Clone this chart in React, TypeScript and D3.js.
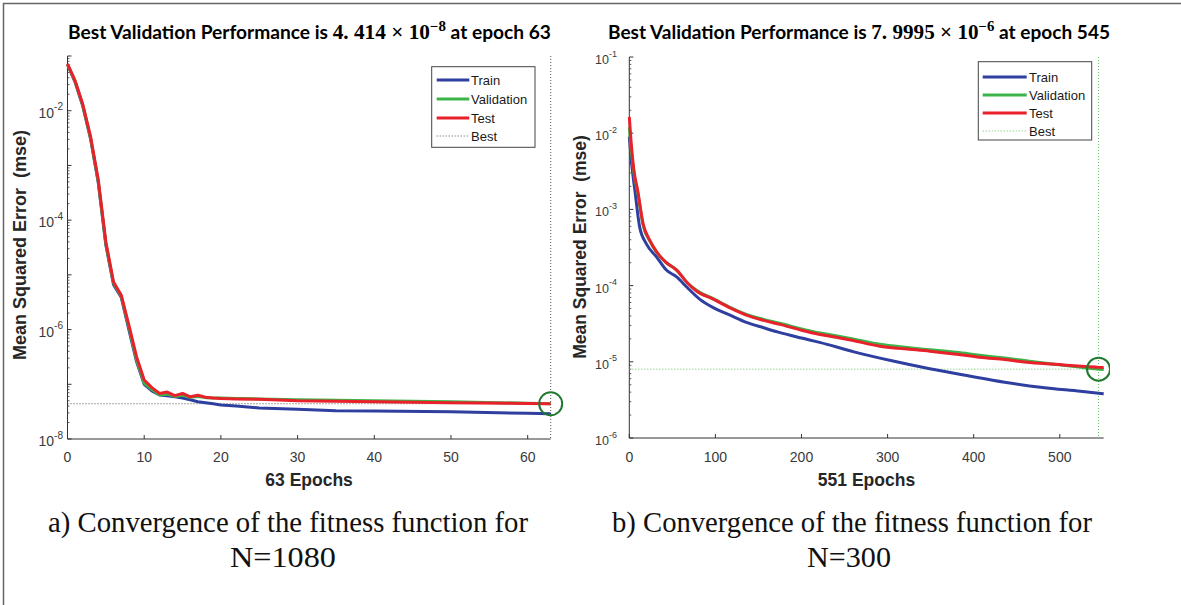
import React from 'react';
import * as d3 from 'd3';

// ---------- Data: chart a) N=1080 ----------
const leftEpochs = [0, 1, 2, 3, 4, 5, 6, 7, 8, 9, 10, 11, 12, 13, 14, 15, 16, 17, 18, 19, 20, 22, 25, 30, 35, 40, 50, 60, 63];
const leftTrain = [7.0e-2, 3.3e-2, 1.2e-2, 3.1e-3, 5.0e-4, 3.5e-5, 6.6e-6, 3.9e-6, 1.0e-6, 2.6e-7, 1.0e-7, 7.6e-8, 6.4e-8, 6.2e-8, 5.9e-8, 5.6e-8, 5.2e-8, 4.8e-8, 4.6e-8, 4.4e-8, 4.2e-8, 4.0e-8, 3.7e-8, 3.5e-8, 3.3e-8, 3.25e-8, 3.15e-8, 2.95e-8, 2.9e-8];
const leftValidation = [7.0e-2, 3.4e-2, 1.25e-2, 3.2e-3, 5.2e-4, 3.7e-5, 7.0e-6, 4.1e-6, 1.1e-6, 2.8e-7, 1.05e-7, 8.0e-8, 6.4e-8, 6.6e-8, 6.0e-8, 6.3e-8, 5.8e-8, 6.0e-8, 5.7e-8, 5.6e-8, 5.6e-8, 5.5e-8, 5.4e-8, 5.2e-8, 5.1e-8, 5.0e-8, 4.8e-8, 4.5e-8, 4.414e-8];
const leftTest = [7.2e-2, 3.5e-2, 1.3e-2, 3.4e-3, 5.6e-4, 4.0e-5, 7.4e-6, 4.3e-6, 1.2e-6, 3.2e-7, 1.2e-7, 8.7e-8, 6.8e-8, 7.2e-8, 6.2e-8, 6.8e-8, 5.9e-8, 6.3e-8, 5.8e-8, 5.6e-8, 5.5e-8, 5.4e-8, 5.3e-8, 5.0e-8, 4.9e-8, 4.8e-8, 4.6e-8, 4.45e-8, 4.414e-8];
const leftBestEpoch = 63;
const leftBestValue = 4.414e-8;
const leftMaxEpoch = 63;
const leftXTicks = [0, 10, 20, 30, 40, 50, 60];
const leftYDecades = [-8, -6, -4, -2];

// ---------- Data: chart b) N=300 ----------
const rightEpochs = [0, 2, 5, 10, 16, 24, 32, 43, 55, 67, 78, 98, 117, 136, 156, 175, 200, 220, 240, 260, 291, 320, 349, 380, 407, 436, 465, 504, 530, 545, 551];
const rightValidation = [1.2e-2, 6.5e-3, 3.2e-3, 1.6e-3, 6.2e-4, 3.8e-4, 2.7e-4, 2.0e-4, 1.6e-4, 1.1e-4, 8.7e-5, 6.7e-5, 5.2e-5, 4.2e-5, 3.6e-5, 3.2e-5, 2.7e-5, 2.4e-5, 2.2e-5, 2.0e-5, 1.7e-5, 1.55e-5, 1.44e-5, 1.33e-5, 1.22e-5, 1.12e-5, 1.02e-5, 9.0e-6, 8.3e-6, 7.9995e-6, 7.95e-6];
const rightTest = [1.64e-2, 7.9e-3, 3.5e-3, 1.7e-3, 6.5e-4, 3.9e-4, 2.75e-4, 2.0e-4, 1.6e-4, 1.1e-4, 8.5e-5, 6.6e-5, 5.1e-5, 4.1e-5, 3.5e-5, 3.1e-5, 2.6e-5, 2.3e-5, 2.1e-5, 1.9e-5, 1.6e-5, 1.48e-5, 1.38e-5, 1.26e-5, 1.15e-5, 1.07e-5, 9.8e-6, 9.1e-6, 8.7e-6, 8.45e-6, 8.4e-6];
const rightTrainEpochs = [0, 2, 7, 12, 20, 32, 43, 55, 67, 82, 98, 117, 136, 156, 173, 200, 221, 261, 305, 349, 392, 436, 480, 524, 551];
const rightTrain = [9.0e-3, 4.8e-3, 1.6e-3, 5.9e-4, 3.5e-4, 2.35e-4, 1.6e-4, 1.3e-4, 9.5e-5, 6.6e-5, 5.1e-5, 4.1e-5, 3.3e-5, 2.8e-5, 2.45e-5, 2.05e-5, 1.8e-5, 1.35e-5, 1.03e-5, 8.1e-6, 6.6e-6, 5.4e-6, 4.6e-6, 4.1e-6, 3.8e-6];
const rightBestEpoch = 545;
const rightBestValue = 7.9995e-6;
const rightMaxEpoch = 551;
const rightXTicks = [0, 100, 200, 300, 400, 500];
const rightYDecades = [-6, -5, -4, -3, -2, -1];

const legendLabels = ['Train', 'Validation', 'Test', 'Best'];

const BLUE = '#2f3f9f';
const GREEN = '#3db449';
const RED = '#e8212b';
const CIRCLE = '#1f7a2e';
const AXIS = '#333';
const SANS = '"Liberation Sans", Arial, sans-serif';

type ChartProps = {
  id: string;
  x0: number; x1: number; yTop: number; yBot: number;
  maxEpoch: number; yMinExp: number; yMaxExp: number;
  xTicks: number[]; yDecades: number[];
  train: { x: number[]; y: number[] };
  val: { x: number[]; y: number[] };
  test: { x: number[]; y: number[] };
  bestEpoch: number; bestValue: number;
  bestColor: string;
  yLabelX: number;
  yLabelY: number;
  yLabelSize: number;
  yTickSize: number;
  xLabel: string;
  supRight: number;
  smooth: boolean;
  legend: { x: number; y: number; w: number; h: number; rows: number[]; lx0: number; lx1: number; tx: number };
  clipRight?: number;
};

function Chart(p: ChartProps) {
  const x = d3.scaleLinear().domain([0, p.maxEpoch]).range([p.x0, p.x1]);
  const y = d3.scaleLog().domain([Math.pow(10, p.yMinExp), Math.pow(10, p.yMaxExp)]).range([p.yBot, p.yTop]);
  const line = (xs: number[], ys: number[]) =>
    d3.line<number>().x((_, i) => x(xs[i])).y((v) => y(v)).curve(p.smooth ? d3.curveMonotoneX : d3.curveLinear)(ys) || '';

  const minor: number[] = [];
  for (let e = p.yMinExp; e < p.yMaxExp; e++) {
    for (let k = 2; k <= 9; k++) minor.push(k * Math.pow(10, e));
  }
  const majors: number[] = [];
  for (let e = p.yMinExp; e <= p.yMaxExp; e++) majors.push(e);

  const cx = x(p.bestEpoch);
  const cy = y(p.bestValue);
  const clipId = `clip-${p.id}`;

  return (
    <g>
      <defs>
        <clipPath id={clipId}>
          <rect x={0} y={0} width={p.clipRight ?? 2000} height={700} />
        </clipPath>
      </defs>
      <line x1={p.x0} x2={p.x0} y1={p.yTop} y2={p.yBot} stroke={AXIS} strokeWidth={1} />
      <line x1={p.x0} x2={p.x1} y1={p.yBot} y2={p.yBot} stroke={AXIS} strokeWidth={1} />
      {minor.map((v, i) => (
        <line key={'mn' + i} x1={p.x0} x2={p.x0 + 2} y1={y(v)} y2={y(v)} stroke={AXIS} strokeWidth={0.8} />
      ))}
      {majors.map((e) => (
        <line key={'mj' + e} x1={p.x0} x2={p.x0 + 4} y1={y(Math.pow(10, e))} y2={y(Math.pow(10, e))} stroke={AXIS} strokeWidth={1} />
      ))}
      {p.xTicks.map((t) => (
        <g key={'xt' + t}>
          <line x1={x(t)} x2={x(t)} y1={p.yBot} y2={p.yBot - 4} stroke={AXIS} strokeWidth={1} />
          <text x={x(t)} y={462} textAnchor="middle" fontFamily={SANS} fontSize={14} fill="#3a3a3a">{t}</text>
        </g>
      ))}
      {p.yDecades.map((e) => (
        <text key={'yl' + e} x={p.supRight} y={y(Math.pow(10, e)) + 7} textAnchor="end" fontFamily={SANS} fontSize={p.yTickSize} fill="#3a3a3a">
          10<tspan dy={-7.5} fontSize={p.yTickSize * 0.72}>{e}</tspan>
        </text>
      ))}
      <text x={(p.x0 + p.x1) / 2} y={485.5} textAnchor="middle" fontFamily={SANS} fontWeight="bold" fontSize={17.5} fill="#262626">{p.xLabel}</text>
      <text transform={`translate(${p.yLabelX},${p.yLabelY}) rotate(-90)`} textAnchor="middle" fontFamily={SANS} fontWeight="bold" fontSize={p.yLabelSize} fill="#262626" style={{ whiteSpace: 'pre' }}>
        {'Mean Squared Error  (mse)'}
      </text>
      <line x1={p.x0} x2={p.x1} y1={cy} y2={cy} stroke={p.bestColor} strokeWidth={1} strokeDasharray="1,2" />
      <line x1={cx} x2={cx} y1={p.yTop} y2={p.yBot} stroke={p.bestColor} strokeWidth={1} strokeDasharray="1,2" />
      <path d={line(p.train.x, p.train.y)} fill="none" stroke={BLUE} strokeWidth={3} strokeLinejoin="round" />
      <path d={line(p.val.x, p.val.y)} fill="none" stroke={GREEN} strokeWidth={3} strokeLinejoin="round" />
      <path d={line(p.test.x, p.test.y)} fill="none" stroke={RED} strokeWidth={3} strokeLinejoin="round" />
      <circle cx={cx} cy={cy} r={11.5} fill="none" stroke={CIRCLE} strokeWidth={2} clipPath={`url(#${clipId})`} />
      <rect x={p.legend.x} y={p.legend.y} width={p.legend.w} height={p.legend.h} fill="white" stroke="#444" strokeWidth={1} />
      {legendLabels.map((lab, i) => {
        const ry = p.legend.rows[i];
        const col = [BLUE, GREEN, RED, p.bestColor][i];
        return (
          <g key={lab}>
            {i < 3 ? (
              <line x1={p.legend.lx0} x2={p.legend.lx1} y1={ry} y2={ry} stroke={col} strokeWidth={3} />
            ) : (
              <line x1={p.legend.lx0} x2={p.legend.lx1} y1={ry} y2={ry} stroke={col} strokeWidth={1} strokeDasharray="1,2" />
            )}
            <text x={p.legend.tx} y={ry + 4.5} fontFamily={SANS} fontSize={13} fill="#1a1a1a">{lab}</text>
          </g>
        );
      })}
    </g>
  );
}

function Title({ cx, width, value, exp, epoch }: { cx: number; width: number; value: string; exp: string; epoch: number }) {
  return (
    <text x={cx} y={39} textAnchor="middle" fontWeight="bold" fill="#000" textLength={width} lengthAdjust="spacingAndGlyphs">
      <tspan fontFamily="Lato, 'Open Sans', sans-serif" fontSize={18}>Best Validation Performance is </tspan>
      <tspan fontFamily="'Liberation Serif', serif" fontSize={20}>{value} × 10</tspan>
      <tspan fontFamily="'Liberation Serif', serif" fontSize={14} dy={-8}>{exp}</tspan>
      <tspan fontFamily="Lato, 'Open Sans', sans-serif" fontSize={18} dy={8}> at epoch {epoch}</tspan>
    </text>
  );
}

export default function App() {
  return (
    <svg width={1181} height={605} style={{ position: 'absolute', left: 0, top: 0, background: '#fff' }}>
      <rect x={0} y={0} width={1181} height={605} fill="#fff" />
      <rect x={3.5} y={3.5} width={1300} height={800} fill="none" stroke="#666" strokeWidth={1.5} />
      <Title cx={309.5} width={483} value="4. 414" exp="−8" epoch={leftBestEpoch} />
      <Title cx={859} width={502} value="7. 9995" exp="−6" epoch={rightBestEpoch} />
      <Chart
        id="a"
        x0={67.5} x1={550.7} yTop={56} yBot={439}
        maxEpoch={leftMaxEpoch} yMinExp={-8} yMaxExp={-1}
        xTicks={leftXTicks} yDecades={leftYDecades}
        train={{ x: leftEpochs, y: leftTrain }}
        val={{ x: leftEpochs, y: leftValidation }}
        test={{ x: leftEpochs, y: leftTest }}
        bestEpoch={leftBestEpoch} bestValue={leftBestValue}
        bestColor="#555"
        yLabelX={26} yLabelY={245} yLabelSize={18} yTickSize={14}
        xLabel={`${leftMaxEpoch} Epochs`}
        supRight={63}
        smooth={false}
        legend={{ x: 431.7, y: 66.7, w: 103.3, h: 80.6, rows: [80, 99, 118, 136], lx0: 436.7, lx1: 469.3, tx: 471 }}
      />
      <Chart
        id="b"
        x0={629.3} x1={1103.7} yTop={57} yBot={438}
        maxEpoch={rightMaxEpoch} yMinExp={-6} yMaxExp={-1}
        xTicks={rightXTicks} yDecades={rightYDecades}
        train={{ x: rightTrainEpochs, y: rightTrain }}
        val={{ x: rightEpochs, y: rightValidation }}
        test={{ x: rightEpochs, y: rightTest }}
        bestEpoch={rightBestEpoch} bestValue={rightBestValue}
        bestColor="#62c462"
        yLabelX={586} yLabelY={247} yLabelSize={17.5} yTickSize={12.5}
        xLabel={`${rightMaxEpoch} Epochs`}
        supRight={617}
        smooth={true}
        legend={{ x: 978.3, y: 61.7, w: 113.4, h: 78.3, rows: [77, 95, 113, 131], lx0: 982.7, lx1: 1026.7, tx: 1029 }}
        clipRight={1110}
      />
      <g fontFamily="'Liberation Serif', 'Times New Roman', serif" fontSize={29} fill="#111" textAnchor="middle">
        <text x={288} y={532} textLength={480} lengthAdjust="spacingAndGlyphs">a) Convergence of the fitness function for</text>
        <text x={283} y={567} textLength={106} lengthAdjust="spacingAndGlyphs">N=1080</text>
        <text x={852} y={532} textLength={480} lengthAdjust="spacingAndGlyphs">b) Convergence of the fitness function for</text>
        <text x={849} y={567} textLength={84} lengthAdjust="spacingAndGlyphs">N=300</text>
      </g>
    </svg>
  );
}
